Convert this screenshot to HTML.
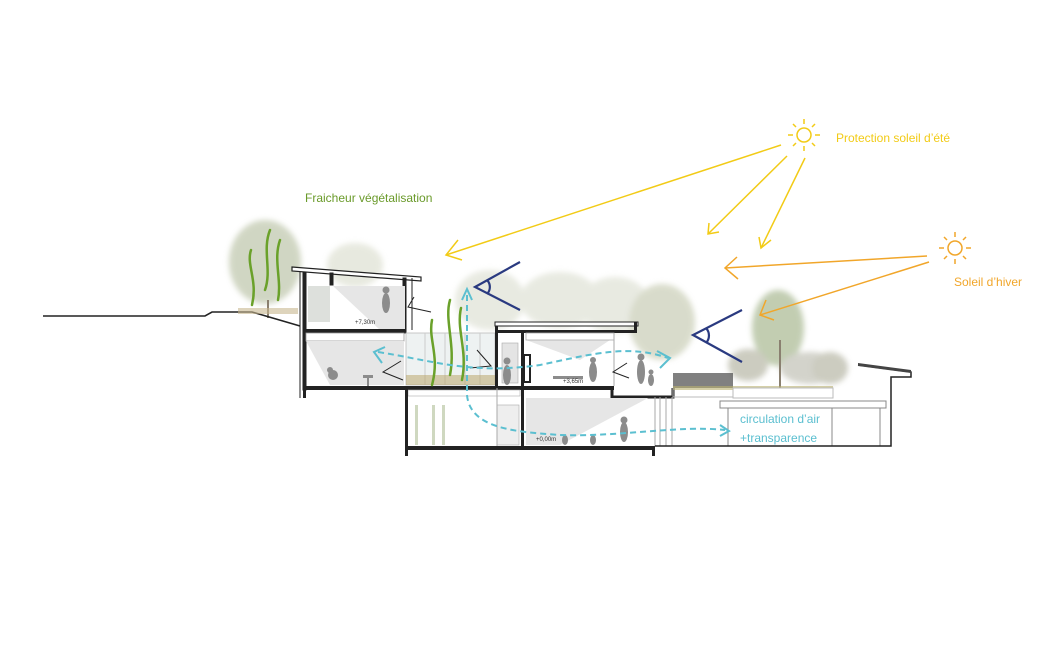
<!DOCTYPE html>
<html><head><meta charset="utf-8"><style>
html,body{margin:0;padding:0;background:#fff;}
svg{display:block;font-family:"Liberation Sans",sans-serif;}
</style></head><body>
<svg width="1060" height="664" viewBox="0 0 1060 664" xmlns="http://www.w3.org/2000/svg">
<defs>
<filter id="bl" x="-20%" y="-20%" width="140%" height="140%"><feGaussianBlur stdDeviation="3"/></filter>
</defs>
<rect width="1060" height="664" fill="#fff"/>

<!-- background trees -->
<g filter="url(#bl)" opacity="0.5">
<ellipse cx="265" cy="262" rx="36" ry="42" fill="#a3ae88"/>
<ellipse cx="355" cy="265" rx="28" ry="22" fill="#d0d4c0"/>
<ellipse cx="490" cy="300" rx="35" ry="30" fill="#d2d6c4"/>
<ellipse cx="560" cy="300" rx="40" ry="28" fill="#d2d6c4"/>
<ellipse cx="615" cy="305" rx="35" ry="28" fill="#d2d6c4"/>
<ellipse cx="662" cy="322" rx="33" ry="38" fill="#b3b998"/>
<ellipse cx="778" cy="328" rx="26" ry="38" fill="#869c66"/>
<ellipse cx="748" cy="365" rx="20" ry="16" fill="#9a9a82"/>
<ellipse cx="810" cy="368" rx="30" ry="16" fill="#a8a898"/>
<ellipse cx="830" cy="368" rx="18" ry="16" fill="#9a9a82"/>
</g>
<line x1="268" y1="300" x2="268" y2="318" stroke="#8a8070" stroke-width="2"/>
<line x1="780" y1="340" x2="780" y2="388" stroke="#8a8070" stroke-width="2"/>

<!-- ground -->
<polyline points="43,316 205,316 212,312 252,312 300,326" fill="none" stroke="#222" stroke-width="1.6"/>
<rect x="238" y="308" width="60" height="6" fill="#c8b890" opacity="0.6"/>

<!-- building top-left -->
<g fill="none" stroke="#222">
<polygon points="292,267 421,277 421,281 292,271" fill="#fff" stroke-width="1.2"/>
<line x1="300" y1="271" x2="300" y2="398" stroke-width="1"/>
<rect x="303" y="272" width="3" height="118" fill="#222"/>
<rect x="330" y="273" width="3" height="12" fill="#222"/>
<rect x="403" y="278" width="3" height="55" fill="#222"/>
<line x1="412" y1="278" x2="412" y2="330" stroke-width="1"/>
</g>
<polygon points="333,286 405,286 405,330 380,330" fill="#e6e6e6"/>
<rect x="308" y="286" width="22" height="36" fill="#dde0dc"/>
<rect x="303" y="329" width="103" height="4" fill="#222"/>
<!-- mid-left -->
<rect x="306" y="333" width="98" height="8" fill="#fff" stroke="#999" stroke-width="0.8"/>
<polygon points="306,341 404,341 404,385 330,385" fill="#e6e6e6"/>
<rect x="303" y="386" width="103" height="4" fill="#222"/>
<rect x="303" y="386" width="3" height="12" fill="#222"/>
<!-- atrium -->
<rect x="406" y="333" width="89" height="52" fill="#eef2f2" stroke="#bbb" stroke-width="0.8"/>
<g stroke="#ccc"><line x1="425" y1="333" x2="425" y2="385"/><line x1="445" y1="333" x2="445" y2="385"/><line x1="465" y1="333" x2="465" y2="385"/><line x1="480" y1="333" x2="480" y2="385"/></g>
<rect x="406" y="375" width="89" height="10" fill="#b5a060" opacity="0.5"/>
<rect x="406" y="386" width="90" height="4" fill="#222"/>
<!-- right block upper -->
<rect x="495" y="322" width="143" height="4" fill="#fff" stroke="#222" stroke-width="1"/>
<rect x="495" y="326" width="3" height="62" fill="#222"/>
<rect x="495" y="330" width="140" height="3" fill="#222"/>
<rect x="634" y="322" width="3" height="11" fill="#222"/>
<rect x="521" y="333" width="3" height="114" fill="#222"/>
<polygon points="526,340 610,340 580,360" fill="#e6e6e6"/>
<rect x="526" y="333" width="88" height="7" fill="#fff" stroke="#aaa" stroke-width="0.8"/>
<rect x="502" y="343" width="16" height="40" fill="#e4e4e4" stroke="#aaa" stroke-width="0.6"/>
<rect x="524" y="355" width="6" height="27" fill="none" stroke="#222" stroke-width="2"/>
<line x1="614" y1="333" x2="614" y2="386" stroke="#aaa"/>
<rect x="496" y="386" width="118" height="4" fill="#222"/>
<polyline points="612,388 612,397 673,397 673,388" fill="none" stroke="#222" stroke-width="3"/>
<!-- lower level -->
<rect x="408" y="390" width="112" height="6" fill="#fff" stroke="#aaa" stroke-width="0.6"/>
<rect x="405" y="388" width="3" height="68" fill="#222"/>
<g fill="#cfd8c0"><rect x="415" y="405" width="3" height="40"/><rect x="432" y="405" width="3" height="40"/><rect x="442" y="405" width="3" height="40"/></g>
<rect x="497" y="405" width="22" height="40" fill="#eee" stroke="#aaa" stroke-width="0.6"/>
<line x1="497" y1="388" x2="497" y2="447" stroke="#aaa"/>
<polygon points="526,398 648,398 560,445 526,445" fill="#e6e6e6"/>
<rect x="405" y="446" width="250" height="4" fill="#222"/>
<rect x="652" y="446" width="3" height="10" fill="#222"/>
<g stroke="#aaa"><line x1="655" y1="397" x2="655" y2="446"/><line x1="660" y1="397" x2="660" y2="446"/><line x1="666" y1="397" x2="666" y2="446"/><line x1="672" y1="397" x2="672" y2="446"/></g>
<!-- right landscape part -->
<rect x="673" y="373" width="60" height="15" fill="#555" opacity="0.75"/>
<rect x="673" y="386" width="160" height="4" fill="#b9b070" opacity="0.6"/>
<polyline points="673,388 673,397 733,397 733,388" fill="none" stroke="#bbb"/>
<rect x="733" y="388" width="100" height="10" fill="#fff" stroke="#bbb"/>
<rect x="720" y="401" width="166" height="7" fill="#fff" stroke="#888"/>
<g stroke="#888"><line x1="728" y1="408" x2="728" y2="446"/><line x1="832" y1="408" x2="832" y2="446"/><line x1="880" y1="408" x2="880" y2="446"/></g>
<polyline points="655,446 891,446 891,377 911,377 911,372 858,365" fill="none" stroke="#222" stroke-width="1.5"/>
<polygon points="858,363 911,370 911,373 858,366" fill="#444"/>

<!-- people -->
<g fill="#8c8c8c">
<ellipse cx="386" cy="303" rx="4" ry="10"/><circle cx="386" cy="290" r="3.5"/>
<ellipse cx="333" cy="375" rx="5" ry="5"/><circle cx="330" cy="370" r="3"/>
<rect x="363" y="375" width="10" height="3"/><rect x="367" y="378" width="2" height="8"/>
<ellipse cx="507" cy="375" rx="4" ry="10"/><circle cx="507" cy="361" r="3.5"/>
<ellipse cx="593" cy="372" rx="4" ry="10"/><circle cx="593" cy="360" r="3"/>
<ellipse cx="641" cy="372" rx="4" ry="12"/><circle cx="641" cy="357" r="3.5"/>
<ellipse cx="651" cy="380" rx="3" ry="6"/><circle cx="651" cy="372" r="2.5"/>
<rect x="553" y="376" width="30" height="3"/>
<ellipse cx="624" cy="432" rx="4" ry="10"/><circle cx="624" cy="420" r="3.5"/>
<ellipse cx="565" cy="440" rx="3" ry="5"/><ellipse cx="593" cy="440" rx="3" ry="5"/>
</g>
<g font-size="6" fill="#333"><text x="355" y="324">+7,30m</text><text x="563" y="383">+3,65m</text><text x="536" y="441">+0,00m</text></g>

<!-- green stems -->
<g fill="none" stroke="#6aa12a" stroke-width="2.5" stroke-linecap="round">
<path d="M251,250 C246,265 258,280 252,305"/>
<path d="M270,230 C262,250 272,270 265,290"/>
<path d="M280,240 C273,260 282,280 278,300"/>
<path d="M432,320 C428,340 440,355 432,385"/>
<path d="M450,300 C444,320 456,345 450,375"/>
<path d="M461,308 C456,330 468,350 462,380"/>
</g>

<!-- small black eyes -->
<g fill="none" stroke="#222" stroke-width="1">
<polyline points="414,297 408,307 431,312"/><polyline points="401,361 383,372 403,380"/>
<polyline points="477,350 491,366 470,368"/><polyline points="627,363 613,372 629,378"/>
</g>

<!-- blue eyes -->
<g fill="none" stroke="#2a3a80" stroke-width="2.2">
<polyline points="520,262 475,287 520,310"/><path d="M487,280 A10,10 0 0 1 487,294"/>
<polyline points="742,310 693,335 742,362"/><path d="M706,328 A11,11 0 0 1 706,343"/>
</g>

<!-- air flow -->
<g fill="none" stroke="#5bbfd0" stroke-width="2">
<path d="M378,352 C430,360 470,375 540,365 C600,352 630,345 668,358" stroke-dasharray="6,4"/>
<polyline points="385,347 374,352 382,363"/>
<polyline points="657,351 670,358 660,368"/>
<path d="M467,295 L467,395 C470,430 520,432 560,435 C620,437 680,425 725,430" stroke-dasharray="6,4"/>
<polyline points="462,300 467,289 472,300"/>
<polyline points="720,425 729,431 720,436"/>
</g>
<text x="740" y="423" font-size="12" fill="#5bbfd0">circulation d’air</text>
<text x="740" y="442" font-size="12" fill="#5bbfd0">+transparence</text>

<!-- summer sun -->
<g stroke="#f2cb16" stroke-width="1.5" fill="none">
<circle cx="804" cy="135" r="7"/>
<line x1="804" y1="119" x2="804" y2="124"/><line x1="804" y1="146" x2="804" y2="151"/>
<line x1="788" y1="135" x2="793" y2="135"/><line x1="815" y1="135" x2="820" y2="135"/>
<line x1="793" y1="124" x2="796" y2="127"/><line x1="812" y1="143" x2="815" y2="146"/>
<line x1="815" y1="124" x2="812" y2="127"/><line x1="793" y1="146" x2="796" y2="143"/>
<line x1="781" y1="145" x2="446" y2="255"/><polyline points="458,240 446,255 462,260"/>
<line x1="787" y1="156" x2="708" y2="234"/><polyline points="709,223 708,234 719,232"/>
<line x1="805" y1="158" x2="761" y2="248"/><polyline points="759,237 761,248 771,240"/>
</g>
<text x="836" y="142" font-size="12" fill="#f2cb16">Protection soleil d’été</text>

<!-- winter sun -->
<g stroke="#f1a62a" stroke-width="1.5" fill="none">
<circle cx="955" cy="248" r="7"/>
<line x1="955" y1="232" x2="955" y2="237"/><line x1="955" y1="259" x2="955" y2="264"/>
<line x1="939" y1="248" x2="944" y2="248"/><line x1="966" y1="248" x2="971" y2="248"/>
<line x1="944" y1="237" x2="947" y2="240"/><line x1="963" y1="256" x2="966" y2="259"/>
<line x1="966" y1="237" x2="963" y2="240"/><line x1="944" y1="259" x2="947" y2="256"/>
<line x1="927" y1="256" x2="725" y2="268"/><polyline points="737,257 725,268 738,279"/>
<line x1="929" y1="262" x2="760" y2="315"/><polyline points="766,300 760,315 774,320"/>
</g>
<text x="954" y="286" font-size="12" fill="#f1a62a">Soleil d’hiver</text>

<text x="305" y="202" font-size="12" fill="#6a9a2a">Fraicheur végétalisation</text>
</svg>
</body></html>
